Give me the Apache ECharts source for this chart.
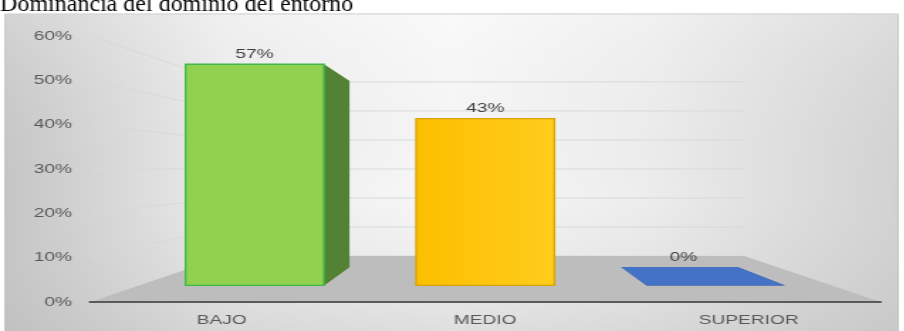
<!DOCTYPE html>
<html>
<head>
<meta charset="utf-8">
<script src="https://cdn.jsdelivr.net/npm/echarts@6/dist/echarts.min.js"></script>
<style>
  html, body { margin: 0; padding: 0; background: #ffffff; overflow: hidden; }
  #chart { position: absolute; left: 0; top: 0; height: 331px; transform-origin: 0 0; }
</style>
</head>
<body>
<div id="chart"></div>
<script>
// ---- data ----
const categories = ['BAJO', 'MEDIO', 'SUPERIOR'];
const shares = [0.57, 0.43, 0];
const yTicks = [0, 0.1, 0.2, 0.3, 0.4, 0.5, 0.6];
const titleText = 'Dominancia del dominio del entorno';

// ---- styling ----
const palette = [
  { front: '#92d050', front2: '#92d050', side: '#548235', top: '#a6db6c', line: '#3db84a' },
  { front: '#fdbf00', front2: '#ffcd1c', side: '#c99600', top: '#ffd34d', line: '#d6a208' },
  { front: '#4472c4', front2: '#4472c4', side: '#2f5597', top: '#4472c4', line: null }
];
const AXIS_TEXT = '#595959';
const LABEL_TEXT = '#404040';
const FONT = '"Liberation Sans", Arial, sans-serif';

// the whole chart is drawn narrow and widened horizontally
const STRETCH = 1.42;
const W = 904 / STRETCH;
const chartEl = document.getElementById('chart');
chartEl.style.width = W + 'px';
chartEl.style.transform = 'scaleX(' + STRETCH + ')';

// depth ratios toward the vanishing point at the centre of the plot
const R_FRONT_FACE = 0.875;
const R_BACK_FACE = 0.736;
const R_WALL = 0.655;
const BAR_FRACTION = 0.6;

const pct = v => Math.round(v * 100) + '%';
const vanishing = cs => [cs.x + cs.width / 2, cs.y + cs.height / 2];
const project = (vp, p, r) => [vp[0] + r * (p[0] - vp[0]), vp[1] + r * (p[1] - vp[1])];

// side wall and back wall gridlines
function renderGrid(params, api) {
  const cs = params.coordSys;
  const vp = vanishing(cs);
  const y = api.coord([0, api.value(1)])[1];
  const fl = [cs.x, y];
  const fr = [cs.x + cs.width, y];
  const bl = project(vp, fl, R_WALL);
  const br = project(vp, fr, R_WALL);
  const lineStyle = { stroke: '#d9d9d9', lineWidth: 1, fill: null };
  return {
    type: 'group',
    children: [
      { type: 'line', shape: { x1: fl[0], y1: fl[1], x2: bl[0], y2: bl[1] }, style: lineStyle },
      { type: 'line', shape: { x1: bl[0], y1: bl[1], x2: br[0], y2: br[1] }, style: lineStyle }
    ]
  };
}

// floor under the bars
function renderFloor(params, api) {
  const cs = params.coordSys;
  const vp = vanishing(cs);
  const y0 = api.coord([0, 0])[1];
  const fl = [cs.x, y0];
  const fr = [cs.x + cs.width, y0];
  return {
    type: 'polygon',
    shape: { points: [fl, fr, project(vp, fr, R_WALL), project(vp, fl, R_WALL)] },
    style: { fill: '#bdbdbd' }
  };
}

// boxes seen in perspective: hidden faces first, visible faces after, front last
function renderBar(params, api) {
  const cs = params.coordSys;
  const vp = vanishing(cs);
  const idx = api.value(0);
  const v = api.value(1);
  const c = palette[idx];
  const base = api.coord([idx, 0]);
  const top = api.coord([idx, v]);
  const half = api.size([1, 0])[0] * BAR_FRACTION / 2;
  const xl = base[0] - half, xr = base[0] + half;

  const f = r => ({
    tl: project(vp, [xl, top[1]], r), tr: project(vp, [xr, top[1]], r),
    br: project(vp, [xr, base[1]], r), bl: project(vp, [xl, base[1]], r)
  });
  const F = f(R_FRONT_FACE);
  const B = f(R_BACK_FACE);
  const poly = (pts, fill, stroke) => ({
    type: 'polygon',
    shape: { points: pts },
    style: { fill: fill, stroke: stroke || null, lineWidth: stroke ? 1.3 : 0 }
  });

  const faces = [
    { pts: [F.tl, B.tl, B.bl, F.bl], fill: c.side, seen: xl > vp[0] },
    { pts: [F.tr, B.tr, B.br, F.br], fill: c.side, seen: xr < vp[0] },
    { pts: [F.bl, F.br, B.br, B.bl], fill: c.side, seen: base[1] < vp[1] },
    { pts: [F.tl, F.tr, B.tr, B.tl], fill: c.top, seen: top[1] > vp[1] }
  ];
  const children = [];
  faces.filter(fc => !fc.seen).forEach(fc => children.push(poly(fc.pts, fc.fill)));
  faces.filter(fc => fc.seen).forEach(fc => children.push(poly(fc.pts, fc.fill)));
  if (v > 0) {
    children.push(poly([F.tl, F.tr, F.br, F.bl], {
      type: 'linear', x: 0, y: 0, x2: 1, y2: 0,
      colorStops: [{ offset: 0, color: c.front }, { offset: 1, color: c.front2 }]
    }, c.line));
  }

  // value label above the highest visible edge of the box
  const frontTop = project(vp, [base[0], top[1]], R_FRONT_FACE);
  const backTop = project(vp, [base[0], top[1]], R_BACK_FACE);
  const anchor = frontTop[1] <= backTop[1] ? frontTop : backTop;
  children.push({
    type: 'text',
    x: anchor[0] + (v > 0 ? 0 : 3), y: anchor[1] - 3,
    style: {
      text: pct(v), fill: LABEL_TEXT, font: '13.5px ' + FONT,
      align: 'center', verticalAlign: 'bottom'
    }
  });
  return { type: 'group', children: children };
}

const chart = echarts.init(chartEl, null, { renderer: 'canvas' });
chart.setOption({
  animation: false,
  grid: { left: 90 / STRETCH, right: 24 / STRETCH, top: 36, bottom: 29 },
  xAxis: {
    type: 'category',
    data: categories,
    axisLine: { lineStyle: { color: '#5a5a5a', width: 2 } },
    axisTick: { show: false },
    axisLabel: { color: AXIS_TEXT, fontSize: 13.5, fontFamily: FONT, margin: 11 },
    splitLine: { show: false },
    z: 10
  },
  yAxis: {
    type: 'value',
    min: 0, max: 0.6, interval: 0.1,
    axisLine: { show: false },
    axisTick: { show: false },
    splitLine: { show: false },
    axisLabel: { color: AXIS_TEXT, fontSize: 13.5, fontFamily: FONT, margin: 18 / STRETCH, formatter: pct }
  },
  graphic: [
    {
      type: 'rect', z: -20, silent: true,
      shape: { x: 5 / STRETCH, y: 14, width: 893 / STRETCH, height: 330 },
      style: {
        fill: {
          type: 'linear', x: 0, y: 0, x2: 1, y2: 0,
          colorStops: [
            { offset: 0, color: '#c5c5c5' },
            { offset: 0.25, color: '#ececec' },
            { offset: 0.5, color: '#f8f8f8' },
            { offset: 0.72, color: '#ededed' },
            { offset: 1, color: '#d2d2d2' }
          ]
        },
        stroke: '#c4c4c4', lineWidth: 1
      }
    },
    {
      type: 'rect', z: -19, silent: true,
      shape: { x: 5 / STRETCH, y: 14, width: 893 / STRETCH, height: 330 },
      style: {
        fill: {
          type: 'linear', x: 0, y: 0, x2: 0, y2: 1,
          colorStops: [
            { offset: 0, color: 'rgba(255,255,255,0.25)' },
            { offset: 0.55, color: 'rgba(210,210,210,0)' },
            { offset: 1, color: 'rgba(185,185,185,0.45)' }
          ]
        }
      }
    },
    {
      type: 'text', z: 100, silent: true,
      x: 0, y: -7, scaleX: 1 / STRETCH,
      style: { text: titleText, font: '24px "Liberation Serif", "Times New Roman", serif', fill: '#000000' }
    }
  ],
  series: [
    {
      type: 'custom', name: 'grid', z: 1, silent: true,
      encode: { x: 0, y: 1 },
      data: yTicks.map(v => [0, v]),
      renderItem: renderGrid
    },
    {
      type: 'custom', name: 'floor', z: 2, silent: true,
      encode: { x: 0, y: 1 },
      data: [[0, 0]],
      renderItem: renderFloor
    },
    {
      type: 'custom', name: 'share', z: 3,
      encode: { x: 0, y: 1 },
      data: categories.map((c, i) => [i, shares[i]]),
      renderItem: renderBar
    }
  ]
});
</script>
</body>
</html>
